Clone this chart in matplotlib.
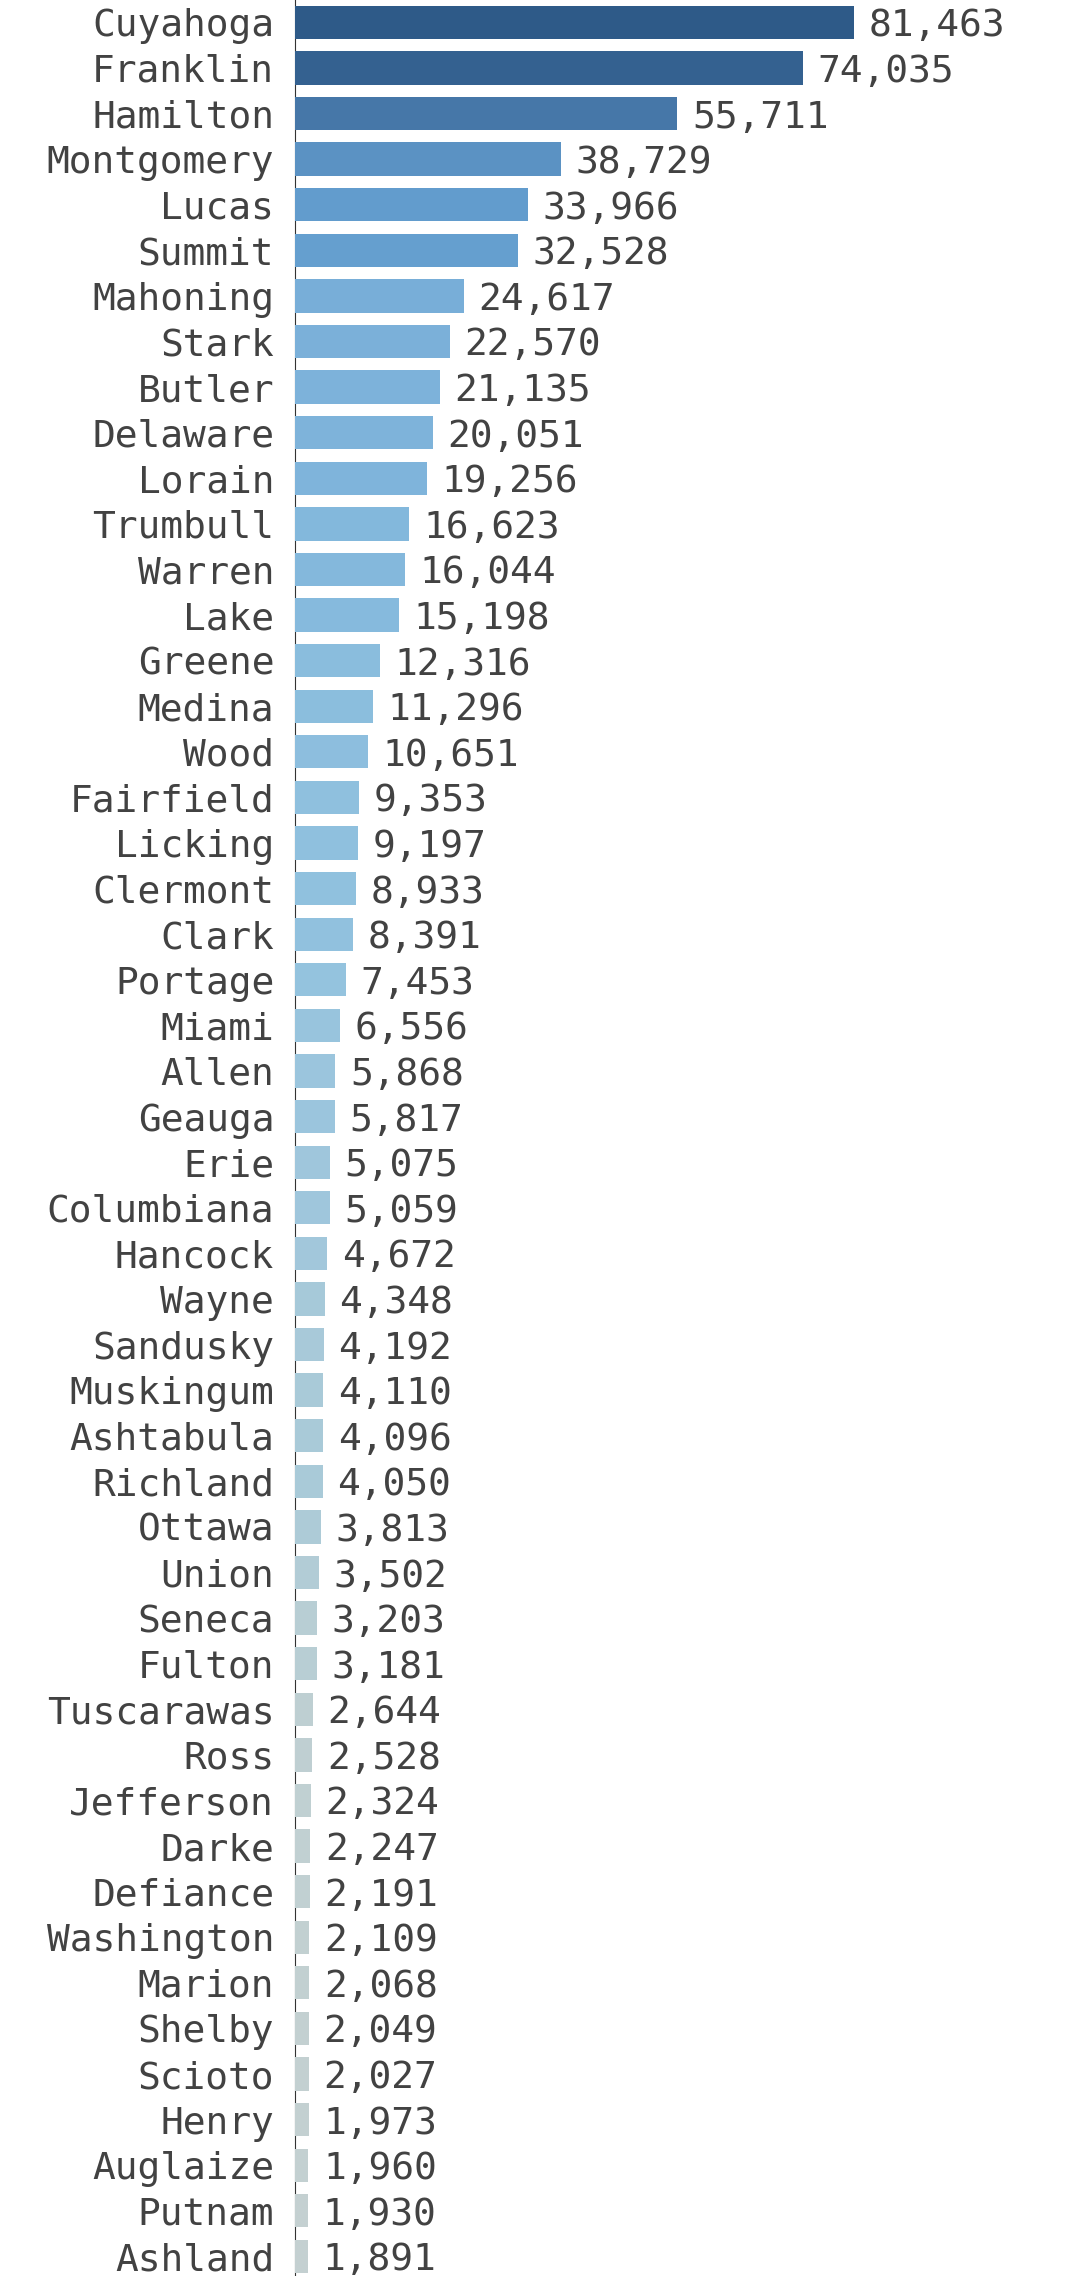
import numpy as np
import matplotlib
matplotlib.use("Agg")
import matplotlib.pyplot as plt
from matplotlib.colors import to_rgb

counties = ["Cuyahoga", "Franklin", "Hamilton", "Montgomery", "Lucas", "Summit",
            "Mahoning", "Stark", "Butler", "Delaware", "Lorain", "Trumbull",
            "Warren", "Lake", "Greene", "Medina", "Wood", "Fairfield", "Licking",
            "Clermont", "Clark", "Portage", "Miami", "Allen", "Geauga", "Erie",
            "Columbiana", "Hancock", "Wayne", "Sandusky", "Muskingum", "Ashtabula",
            "Richland", "Ottawa", "Union", "Seneca", "Fulton", "Tuscarawas", "Ross",
            "Jefferson", "Darke", "Defiance", "Washington", "Marion", "Shelby",
            "Scioto", "Henry", "Auglaize", "Putnam", "Ashland"]
values = [81463, 74035, 55711, 38729, 33966, 32528, 24617, 22570, 21135, 20051,
          19256, 16623, 16044, 15198, 12316, 11296, 10651, 9353, 9197, 8933,
          8391, 7453, 6556, 5868, 5817, 5075, 5059, 4672, 4348, 4192, 4110,
          4096, 4050, 3813, 3502, 3203, 3181, 2644, 2528, 2324, 2247, 2191,
          2109, 2068, 2049, 2027, 1973, 1960, 1930, 1891]

# colour ramp anchors (by value, interpolated on log scale)
ramp_vals = [1891, 3000, 4000, 5000, 8000, 15000, 25000, 34000, 56000, 81463]
ramp_cols = ["#c4d0d1", "#bccfd3", "#aacad8", "#9fc6dc", "#92c2de", "#86badd",
             "#78aed8", "#629ccd", "#4677a8", "#2e5a88"]

def bar_color(v):
    lv = np.log10(ramp_vals)
    rgb = np.array([to_rgb(c) for c in ramp_cols])
    return tuple(np.interp(np.log10(v), lv, rgb[:, k]) for k in range(3))

plt.rcParams['font.family'] = ['DejaVu Sans Mono']
text_color = "#424242"
fs = 27.3

fig = plt.figure(figsize=(10.66, 22.76), dpi=100)
ax = fig.add_axes([295 / 1066, 0, 771 / 1066, 1])

y = np.arange(len(counties))
colors = [bar_color(v) for v in values]
ax.barh(y, values, height=0.73, color=colors, zorder=2)

for yi, v in zip(y, values):
    ax.annotate(f"{v:,}", xy=(v, yi), xytext=(10.5, 0), textcoords="offset points",
                ha="left", va="center_baseline", fontsize=fs, color=text_color)

ax.set_xlim(0, 112300)
ax.set_ylim(49.43, -0.49)
ax.set_yticks(y)
ax.set_yticklabels(counties, fontsize=fs, color=text_color)
ax.tick_params(axis="y", length=0, pad=15)
ax.set_xticks([])
for s in ["top", "right", "bottom"]:
    ax.spines[s].set_visible(False)
ax.spines["left"].set_color("#333333")
ax.spines["left"].set_linewidth(0.8)
ax.spines["left"].set_zorder(1)

fig.savefig("out.png", dpi=100)
